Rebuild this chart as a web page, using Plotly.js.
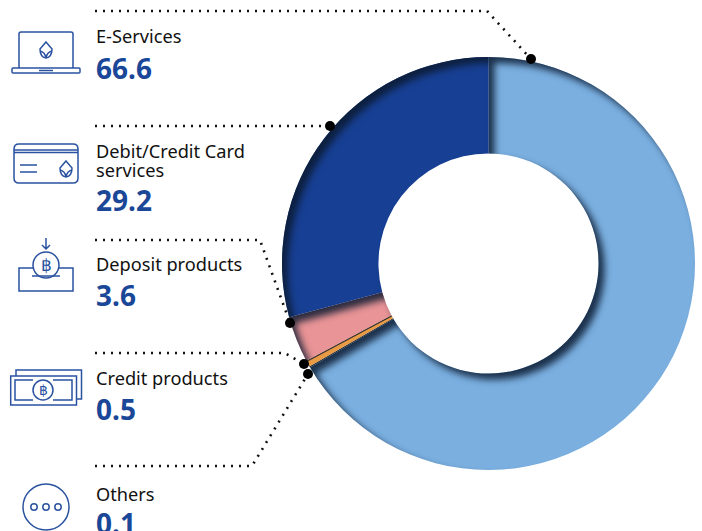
<!DOCTYPE html>
<html><head><meta charset="utf-8">
<script src="https://cdn.plot.ly/plotly-3.0.1.min.js"></script>
<style>html,body{margin:0;padding:0;background:#fff;overflow:hidden}</style>
</head><body><div id="chart" style="width:702px;height:531px"></div>
<script>
const categories = ['E-Services','Others','Credit products','Deposit products','Debit/Credit Card services'];
const values = [66.6,0.1,0.5,3.6,29.2];
const sliceColors = ['#7aafe0','#6f7680','#e89a45','#e99496','#173f93'];
const labelLines = [['E-Services'],['Debit/Credit Card','services'],['Deposit products'],['Credit products'],['Others']];
const valueLabels = ['66.6','29.2','3.6','0.5','0.1'];
const labelY = [[35.5],[150.5,169.5],[263.5],[377.5],[493.5]];
const valueY = [68,200,295,409,523];
const leaders = [
 [[95,11],[487,11],[531,59]],
 [[95,126],[330,126]],
 [[95,240],[260,240],[290,323]],
 [[95,353],[285,353],[304,364]],
 [[95,466],[252,466],[308,374]]
];
const BLUE='#2a52a0', NAVY='#1a4797', INK='#111111', FONT='"Noto Sans", sans-serif';

const shapes=[];
function icon(path){shapes.push({type:'path',path,xref:'x',yref:'y',layer:'above',line:{color:BLUE,width:1.5},fillcolor:'rgba(0,0,0,0)'});}
function circle(cx,cy,r){shapes.push({type:'circle',xref:'x',yref:'y',x0:cx-r,x1:cx+r,y0:cy-r,y1:cy+r,layer:'above',line:{color:BLUE,width:1.5}});}
function logo(cx,cy){
  icon(`M${cx} ${cy-8}L${cx+6} ${cy-1}Q${cx+6} ${cy+7} ${cx} ${cy+8}Q${cx-6} ${cy+7} ${cx-6} ${cy-1}Z`);
  icon(`M${cx-6} ${cy+1}Q${cx-1} ${cy+2} ${cx} ${cy+8}Q${cx+1} ${cy+2} ${cx+6} ${cy+1}`);
}
leaders.forEach(l=>{
  shapes.push({type:'path',xref:'x',yref:'y',layer:'above',
    path:l.map((p,i)=>(i?'L':'M')+p[0]+' '+p[1]).join(''),
    line:{color:'#111',width:2.6,dash:'2px,6px'},fillcolor:'rgba(0,0,0,0)'});
  const e=l[l.length-1];
  shapes.push({type:'circle',xref:'x',yref:'y',layer:'above',x0:e[0]-5,x1:e[0]+5,y0:e[1]-5,y1:e[1]+5,fillcolor:'#000',line:{width:0}});
});
// laptop
icon('M19 68V34Q19 32 21 32H71Q73 32 73 34V68');
icon('M13 68H79Q80 68 80 69V72Q80 73 79 73H13Q12 73 12 72V69Q12 68 13 68Z');
icon('M39 70.5H53');
logo(46,50);
// card
icon('M19 144H73Q78 144 78 149V178Q78 183 73 183H19Q14 183 14 178V149Q14 144 19 144Z');
icon('M14 150H78M14 152.5H78M20 165H37M20 172H37');
logo(66,169);
// deposit
icon('M33 268H19V291H73V268H59M32 276H60M46 238V249M42 245L46 249L50 245');
circle(46,265,13);
// money
icon('M16 376V370H81.5V399H76.5');
icon('M10.7 376H76.5V405H10.7Z');
icon('M33 380H15V400H33M53 380H72V400H53');
circle(43,390,10);
// others
circle(46,507,23); circle(34,507,3.2); circle(46,507,3.2); circle(58,507,3.2);

const annotations=[];
labelLines.forEach((lines,i)=>{
  lines.forEach((t,j)=>annotations.push({x:94,y:labelY[i][j],xref:'x',yref:'y',xanchor:'left',yanchor:'middle',align:'left',showarrow:false,
    text:t,font:{family:FONT,size:18.2,color:INK}}));
  annotations.push({x:94,y:valueY[i],xref:'x',yref:'y',xanchor:'left',yanchor:'middle',align:'left',showarrow:false,
    text:'<b>'+valueLabels[i]+'</b>',font:{family:FONT,size:28,color:NAVY}});
});
[[46,265,17],[43,390,14]].forEach(b=>annotations.push({x:b[0],y:b[1],xref:'x',yref:'y',showarrow:false,text:'฿',font:{family:'"DejaVu Sans"',size:b[2],color:BLUE}}));

const data=[
 {type:'scatter',x:[0,702],y:[0,531],mode:'none',hoverinfo:'skip',showlegend:false},
 {type:'pie',labels:categories,values:values,sort:false,direction:'clockwise',rotation:0,hole:0.533,
  domain:{x:[282/702,695/702],y:[61/531,474/531]},textinfo:'none',hoverinfo:'none',showlegend:false,
  marker:{colors:sliceColors,line:{width:0}}}
];
const layout={width:702,height:531,margin:{l:0,r:0,t:0,b:0},paper_bgcolor:'#fff',plot_bgcolor:'rgba(0,0,0,0)',showlegend:false,
 xaxis:{range:[0,702],visible:false,fixedrange:true},
 yaxis:{range:[531,0],visible:false,fixedrange:true},
 shapes,annotations};
function shade(id,d,s,o){return `<filter id="${id}" filterUnits="userSpaceOnUse" x="200" y="-20" width="560" height="570" color-interpolation-filters="sRGB">
    <feComponentTransfer in="SourceAlpha" result="inv"><feFuncA type="table" tableValues="1 0"/></feComponentTransfer>
    <feOffset in="inv" dx="${d}" dy="${d}" result="off"/>
    <feGaussianBlur in="off" stdDeviation="${s}" result="bl"/>
    <feFlood flood-color="#0a1a30" flood-opacity="${o}"/>
    <feComposite in2="bl" operator="in" result="sh"/>
    <feComposite in="sh" in2="SourceAlpha" operator="in" result="ish"/>
    <feMerge><feMergeNode in="SourceGraphic"/><feMergeNode in="ish"/></feMerge></filter>`;}
Plotly.newPlot('chart',data,layout,{displayModeBar:false,staticPlot:true}).then(gd=>{
  const defs=gd.querySelector('svg.main-svg defs');
  const holder=document.createElementNS('http://www.w3.org/2000/svg','g');
  holder.innerHTML=shade('innerShade',5.5,3.5,0.85)+shade('thinShade',0.6,0.5,0.8);
  Array.from(holder.children).forEach(f=>defs.appendChild(f));
  gd.querySelectorAll('.slice path.surface').forEach((p,i)=>{
    p.setAttribute('filter',(i===1||i===2)?'url(#thinShade)':'url(#innerShade)');
  });
});
</script></body></html>
